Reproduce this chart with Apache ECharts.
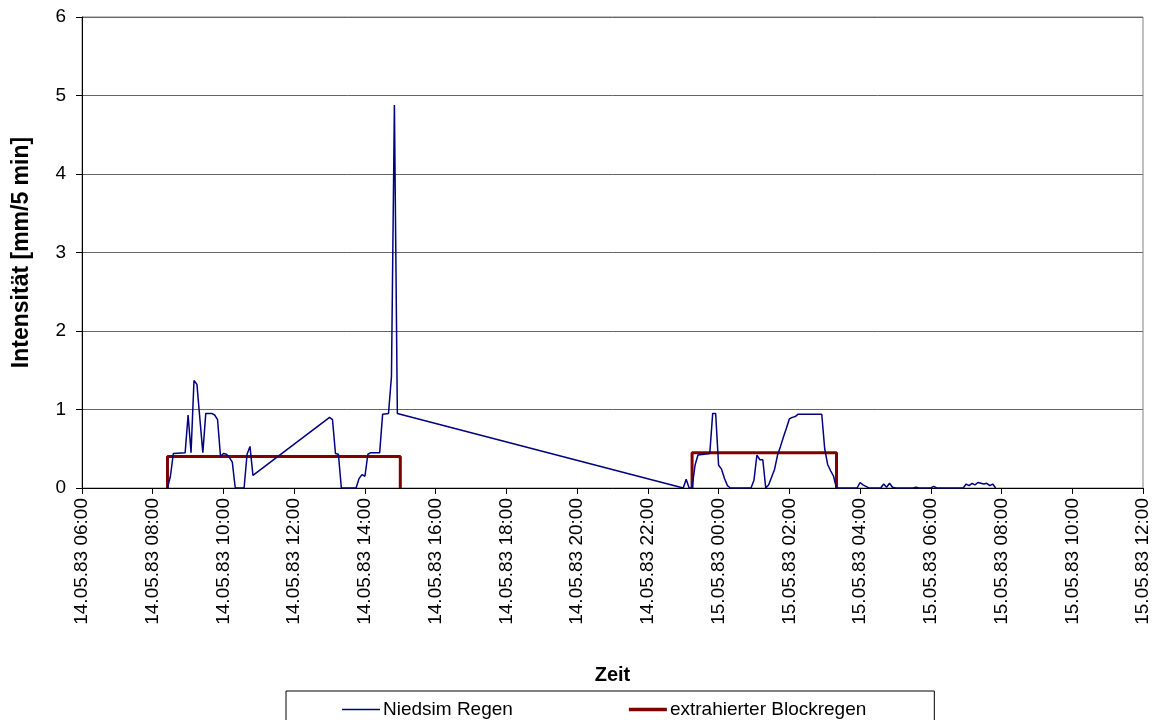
<!DOCTYPE html>
<html>
<head>
<meta charset="utf-8">
<script src="https://cdn.jsdelivr.net/npm/echarts@6/dist/echarts.min.js"></script>
<style>html,body{margin:0;padding:0;background:#fff}#c{width:1153px;height:720px}</style>
</head>
<body>
<div id="c"></div>
<script>
// Niedsim Regen (5-min intensities)
var rainTimes = [
'14.05.83 08:25','14.05.83 08:30','14.05.83 08:35','14.05.83 08:55','14.05.83 09:00','14.05.83 09:05',
'14.05.83 09:10','14.05.83 09:15','14.05.83 09:20','14.05.83 09:25','14.05.83 09:30','14.05.83 09:40',
'14.05.83 09:45','14.05.83 09:50','14.05.83 09:55','14.05.83 10:00','14.05.83 10:05','14.05.83 10:10',
'14.05.83 10:15','14.05.83 10:20','14.05.83 10:35','14.05.83 10:40','14.05.83 10:45','14.05.83 10:50',
'14.05.83 13:00','14.05.83 13:05','14.05.83 13:10','14.05.83 13:15','14.05.83 13:20','14.05.83 13:45',
'14.05.83 13:50','14.05.83 13:55','14.05.83 14:00','14.05.83 14:05','14.05.83 14:10','14.05.83 14:25',
'14.05.83 14:30','14.05.83 14:40','14.05.83 14:45','14.05.83 14:50','14.05.83 14:55',
'14.05.83 23:00','14.05.83 23:05','14.05.83 23:10','14.05.83 23:15','14.05.83 23:20','14.05.83 23:25',
'14.05.83 23:45','14.05.83 23:50','14.05.83 23:55',
'15.05.83 00:00','15.05.83 00:05','15.05.83 00:10','15.05.83 00:15','15.05.83 00:20','15.05.83 00:55',
'15.05.83 01:00','15.05.83 01:05','15.05.83 01:10','15.05.83 01:15','15.05.83 01:20','15.05.83 01:25',
'15.05.83 01:30','15.05.83 01:35','15.05.83 01:40','15.05.83 01:45','15.05.83 01:50','15.05.83 01:55',
'15.05.83 02:00','15.05.83 02:05','15.05.83 02:10','15.05.83 02:15','15.05.83 02:55','15.05.83 03:00',
'15.05.83 03:05','15.05.83 03:10','15.05.83 03:15','15.05.83 03:20','15.05.83 03:55','15.05.83 04:00',
'15.05.83 04:05','15.05.83 04:10','15.05.83 04:15','15.05.83 04:35','15.05.83 04:40','15.05.83 04:45',
'15.05.83 04:50','15.05.83 04:55','15.05.83 05:00','15.05.83 05:30','15.05.83 05:35','15.05.83 05:40',
'15.05.83 06:00','15.05.83 06:05','15.05.83 06:10','15.05.83 06:55','15.05.83 07:00','15.05.83 07:05',
'15.05.83 07:10','15.05.83 07:15','15.05.83 07:20','15.05.83 07:25','15.05.83 07:30','15.05.83 07:35',
'15.05.83 07:40','15.05.83 07:45','15.05.83 07:50'
];
var rainValues = [
0,0.15,0.44,0.45,0.93,0.45,
1.37,1.32,0.88,0.45,0.95,0.95,
0.93,0.87,0.40,0.44,0.43,0.39,
0.33,0,0,0.43,0.53,0.16,
0.90,0.87,0.44,0.43,0,0,
0.12,0.17,0.15,0.43,0.45,0.45,
0.94,0.95,1.42,4.88,0.95,
0,0.11,0,0,0.29,0.42,
0.44,0.95,0.95,
0.29,0.24,0.12,0.03,0,0,
0.10,0.42,0.36,0.36,0,0.04,
0.14,0.24,0.42,0.53,0.65,0.76,
0.88,0.90,0.91,0.94,0.94,0.50,
0.30,0.22,0.15,0,0,0.07,
0.04,0.02,0,0,0.05,0.01,
0.06,0.01,0,0,0.01,0,
0,0.02,0,0,0.05,0.03,
0.06,0.04,0.07,0.06,0.05,0.06,
0.03,0.05,0
];
// extrahierter Blockregen
var blockStart = ['14.05.83 08:25','14.05.83 23:15'];
var blockEnd   = ['14.05.83 15:00','15.05.83 03:20'];
var blockValue = [0.40, 0.45];
// Axis ticks
var xMinLabel = '14.05.83 06:00', xMaxLabel = '15.05.83 12:00';
var yTicks = [0,1,2,3,4,5,6];
var seriesNames = ['Niedsim Regen','extrahierter Blockregen'];

function toHours(s){ // hours since 14.05.83 00:00
  var p = s.split(' '), d = p[0].split('.'), t = p[1].split(':');
  return (parseInt(d[0],10)-14)*24 + parseInt(t[0],10) + parseInt(t[1],10)/60;
}
function pad(n){return (n<10?'0':'')+n;}
function fmt(h){
  var day = 14 + Math.floor(h/24), hh = Math.round(h - (day-14)*24);
  return day + '.05.83 ' + pad(hh) + ':00';
}
var rainData = rainTimes.map(function(t,i){return [toHours(t), rainValues[i]];});
var blockData = [];
for (var i=0;i<blockStart.length;i++){
  var a = toHours(blockStart[i]), b = toHours(blockEnd[i]);
  if (i>0) blockData.push([a,'-']);
  blockData.push([a,0],[a,blockValue[i]],[b,blockValue[i]],[b,0]);
}
var FONT = "'Liberation Sans', Arial, sans-serif";
var chart = echarts.init(document.getElementById('c'), null, {renderer:'canvas'});
chart.setOption({
  animation:false,
  backgroundColor:'#ffffff',
  textStyle:{fontFamily:FONT,color:'#000'},
  grid:{left:82,right:10,top:17,bottom:232,show:true,borderColor:'#808080',borderWidth:1,backgroundColor:'transparent'},
  xAxis:{
    type:'value', min:toHours(xMinLabel), max:toHours(xMaxLabel), interval:2,
    name:'Zeit', nameLocation:'middle', nameGap:177,
    nameTextStyle:{fontFamily:FONT,fontWeight:'bold',fontSize:20,color:'#000'},
    axisLine:{lineStyle:{color:'#000',width:1}},
    axisTick:{show:true,length:6,lineStyle:{color:'#000'}},
    axisLabel:{rotate:90,margin:10,fontSize:19,fontFamily:FONT,color:'#000',formatter:function(v){return fmt(v);}},
    splitLine:{show:false}
  },
  yAxis:{
    type:'value', min:yTicks[0], max:yTicks[yTicks.length-1], interval:1,
    name:'Intensität [mm/5 min]', nameLocation:'middle', nameGap:49, nameRotate:90,
    nameTextStyle:{fontFamily:FONT,fontWeight:'bold',fontSize:23,color:'#000'},
    axisLine:{show:true,lineStyle:{color:'#000',width:1}},
    axisTick:{show:true,length:6,lineStyle:{color:'#000'}},
    axisLabel:{margin:16,fontSize:19,fontFamily:FONT,color:'#000'},
    splitLine:{show:true,lineStyle:{color:'#666',width:1}}
  },
  legend:{
    left:286, top:691, orient:'horizontal',
    padding:[9,68,12,56], itemGap:116, itemWidth:38, itemHeight:14,
    borderColor:'#000', borderWidth:1, backgroundColor:'#fff',
    textStyle:{fontFamily:FONT,fontSize:19,color:'#000',padding:[0,0,0,-2]},
    data:[
      {name:seriesNames[0], icon:'path://M0,0H38V1.5H0Z', itemStyle:{color:'#000080'}},
      {name:seriesNames[1], icon:'path://M0,0H38V3.5H0Z', itemStyle:{color:'#800000'}}
    ]
  },
  series:[
    {name:seriesNames[0],type:'line',data:rainData,showSymbol:false,symbol:'none',
     lineStyle:{color:'#000080',width:1.5},itemStyle:{color:'#000080'},z:3},
    {name:seriesNames[1],type:'line',data:blockData,showSymbol:false,symbol:'none',connectNulls:false,
     lineStyle:{color:'#800000',width:3},itemStyle:{color:'#800000'},z:2}
  ]
});
</script>
</body>
</html>
